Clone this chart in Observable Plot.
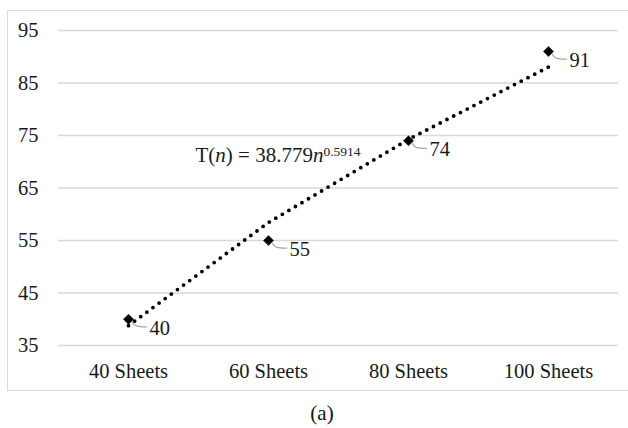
<!DOCTYPE html>
<html>
<head>
<meta charset="utf-8">
<script src="https://cdn.jsdelivr.net/npm/d3@7"></script>
<script src="https://cdn.jsdelivr.net/npm/@observablehq/plot@0.6"></script>
<style>
  html, body { margin: 0; padding: 0; background: #fff; width: 628px; height: 428px; overflow: hidden; }
  #frame { position: absolute; left: 7px; top: 10px; width: 640px; height: 381px; border: 1.5px solid #d9d9d9; box-sizing: border-box; }
  #chart { position: absolute; left: 0; top: 0; }
  #caption { position: absolute; left: 0; top: 401px; width: 644px; text-align: center; font-family: "Liberation Serif", "Times New Roman", Tinos, "DejaVu Serif", serif; font-size: 21px; color: #111; }
  #chart svg, #chart svg text { font-family: "Liberation Serif", "Times New Roman", Tinos, "DejaVu Serif", serif !important; }
</style>
</head>
<body>
<div id="frame"></div>
<div id="chart"></div>
<div id="caption">(a)</div>
<script>
const categories = ["40 Sheets", "60 Sheets", "80 Sheets", "100 Sheets"];
const values = [40, 55, 74, 91];
const trendValues = [38.78, 58.43, 74.26, 88.04];
const yTicks = [35, 45, 55, 65, 75, 85, 95];
const equationParts = ["T(", "n", ") = 38.779", "n", "0.5914"];
const equationCategory = "60 Sheets";
const equationValue = 71.3;

const points = categories.map((c, i) => ({cat: c, v: values[i]}));
const trend = categories.map((c, i) => ({cat: c, v: trendValues[i]}));
const equation = [{cat: equationCategory, v: equationValue, text: equationParts.join("")}];

const leader = {
  draw(context, l) {
    context.moveTo(0, 0);
    context.bezierCurveTo(l * 0.15, l * 0.3, l * 0.35, l * 0.33, l, l * 0.33);
  }
};

const chart = Plot.plot({
  width: 628,
  height: 392,
  marginLeft: 58,
  marginRight: 10,
  marginTop: 30,
  marginBottom: 47,
  style: {fontFamily: "'Liberation Serif', 'Times New Roman', serif", fontSize: "20.5px", color: "#1a1a1a", background: "transparent", overflow: "visible"},
  x: {type: "point", domain: categories, padding: 0.5, label: null, tickSize: 0, tickPadding: 18},
  y: {domain: [35, 95], ticks: yTicks, label: null, tickSize: 0, tickPadding: 20},
  marks: [
    Plot.ruleY(yTicks, {stroke: "#d9d9d9", strokeWidth: 1.5}),
    Plot.line(trend, {x: "cat", y: "v", stroke: "#000", strokeWidth: 3.8, strokeDasharray: "0,7.6", strokeLinecap: "round"}),
    Plot.vector(points, {x: "cat", y: "v", length: 14, rotate: 0, anchor: "start", shape: leader, stroke: "#a6a6a6", strokeWidth: 1.3, dx: 4, dy: 3}),
    Plot.dot(points, {x: "cat", y: "v", symbol: "diamond2", r: 4.6, fill: "#000", stroke: "#000", strokeWidth: 0.5}),
    Plot.text(points, {x: "cat", y: "v", text: d => String(d.v), textAnchor: "start", dx: 21, dy: 9, fill: "#1a1a1a", fontSize: 20.5}),
    Plot.text(equation, {x: "cat", y: "v", text: "text", textAnchor: "start", dx: -73, fill: "#1a1a1a", fontSize: 21})
  ]
});

document.getElementById("chart").appendChild(chart);

// Rich formatting for the trendline equation (italic n, superscript exponent)
d3.select(chart).selectAll("text").each(function() {
  if (this.textContent === equationParts.join("")) {
    const t = d3.select(this);
    t.text(null);
    t.append("tspan").text(equationParts[0]);
    t.append("tspan").attr("font-style", "italic").text(equationParts[1]);
    t.append("tspan").text(equationParts[2]);
    t.append("tspan").attr("font-style", "italic").text(equationParts[3]);
    t.append("tspan").attr("font-size", "13.5px").attr("dy", "-6").text(equationParts[4]);
  }
});
</script>
</body>
</html>
